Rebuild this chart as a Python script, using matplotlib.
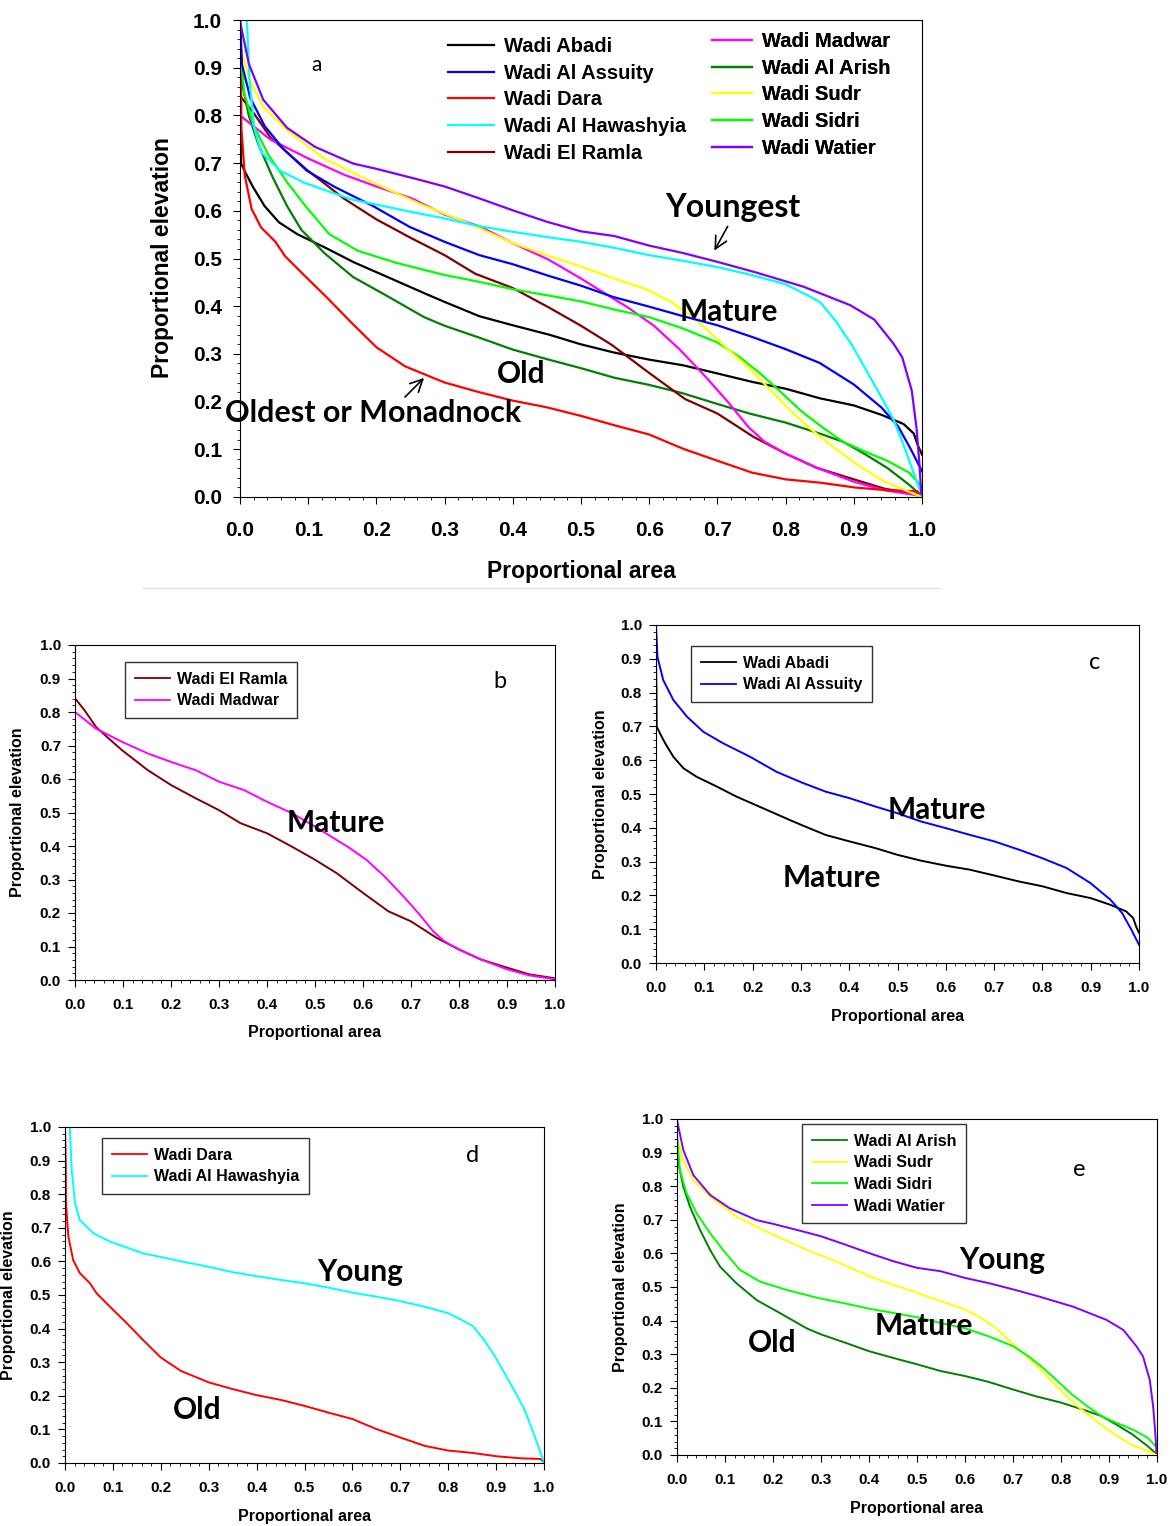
import numpy as np
import matplotlib
matplotlib.use("Agg")
import matplotlib.pyplot as plt
from matplotlib.ticker import MultipleLocator
from matplotlib.lines import Line2D

# hypsometric curves (proportional area, proportional elevation)
abadi_x = [0.0, 0.001, 0.0014, 0.008, 0.019, 0.036, 0.057, 0.084, 0.126, 0.167, 0.215, 0.277, 0.3, 0.351,
           0.4, 0.454, 0.5, 0.548, 0.6, 0.65, 0.7, 0.752, 0.8, 0.85, 0.9, 0.941, 0.973, 0.988, 0.994, 1.0]
abadi_y = [0.897, 0.8, 0.70, 0.68, 0.65, 0.61, 0.576, 0.551, 0.522, 0.492, 0.462, 0.423, 0.409, 0.379,
           0.36, 0.34, 0.32, 0.303, 0.288, 0.276, 0.259, 0.241, 0.227, 0.207, 0.192, 0.172, 0.153, 0.133,
           0.108, 0.089]

assuity_x = [0.0, 0.003, 0.015, 0.036, 0.064, 0.098, 0.139, 0.195, 0.249, 0.3, 0.351, 0.4, 0.454, 0.5,
             0.548, 0.6, 0.65, 0.7, 0.752, 0.8, 0.85, 0.9, 0.941, 0.965, 0.984, 1.0]
assuity_y = [1.0, 0.906, 0.837, 0.778, 0.729, 0.684, 0.65, 0.61, 0.566, 0.535, 0.507, 0.488, 0.463, 0.443,
             0.419, 0.399, 0.379, 0.36, 0.335, 0.31, 0.281, 0.236, 0.187, 0.148, 0.099, 0.054]

dara_x = [0.0, 0.0015, 0.002, 0.007, 0.017, 0.031, 0.052, 0.066, 0.094, 0.129, 0.163, 0.2, 0.242, 0.3,
          0.35, 0.4, 0.45, 0.5, 0.55, 0.6, 0.65, 0.7, 0.751, 0.8, 0.851, 0.901, 0.951, 0.993, 1.0]
dara_y = [1.0, 0.9, 0.773, 0.674, 0.604, 0.565, 0.535, 0.505, 0.465, 0.416, 0.366, 0.314, 0.274, 0.24,
          0.22, 0.202, 0.188, 0.17, 0.15, 0.131, 0.101, 0.076, 0.051, 0.037, 0.03, 0.02, 0.014, 0.012, 0.002]

hawashyia_x = [0.010, 0.014, 0.021, 0.031, 0.059, 0.094, 0.163, 0.2, 0.25, 0.3, 0.35, 0.4, 0.45, 0.5, 0.55,
               0.6, 0.65, 0.7, 0.751, 0.8, 0.832, 0.851, 0.874, 0.897, 0.921, 0.944, 0.959, 0.975, 0.99, 1.0]
hawashyia_y = [1.0, 0.872, 0.773, 0.723, 0.684, 0.659, 0.624, 0.613, 0.598, 0.584, 0.568, 0.556, 0.545,
               0.535, 0.522, 0.507, 0.495, 0.482, 0.465, 0.446, 0.423, 0.408, 0.368, 0.319, 0.259, 0.2, 0.16,
               0.101, 0.042, 0.002]

ramla_x = [0.0, 0.02, 0.044, 0.067, 0.098, 0.152, 0.2, 0.252, 0.3, 0.345, 0.4, 0.452, 0.5, 0.545, 0.6,
           0.653, 0.7, 0.753, 0.8, 0.846, 0.9, 0.946, 1.0]
ramla_y = [0.841, 0.805, 0.755, 0.725, 0.686, 0.626, 0.582, 0.542, 0.507, 0.468, 0.438, 0.398, 0.359, 0.319,
           0.26, 0.205, 0.175, 0.126, 0.091, 0.061, 0.037, 0.017, 0.005]

madwar_x = [0.0, 0.044, 0.098, 0.152, 0.2, 0.252, 0.3, 0.352, 0.4, 0.452, 0.5, 0.545, 0.568, 0.607, 0.645,
            0.684, 0.715, 0.746, 0.769, 0.8, 0.846, 0.9, 0.946, 1.0]
madwar_y = [0.80, 0.75, 0.711, 0.676, 0.651, 0.626, 0.592, 0.567, 0.532, 0.498, 0.458, 0.418, 0.398, 0.359,
            0.309, 0.25, 0.2, 0.146, 0.116, 0.091, 0.061, 0.032, 0.014, 0.002]

arish_x = [0.0, 0.003, 0.013, 0.027, 0.048, 0.069, 0.09, 0.124, 0.166, 0.215, 0.27, 0.3, 0.351, 0.4, 0.45,
           0.5, 0.549, 0.6, 0.648, 0.7, 0.747, 0.8, 0.85, 0.884, 0.915, 0.949, 0.98, 1.0]
arish_y = [0.914, 0.868, 0.799, 0.739, 0.67, 0.61, 0.56, 0.511, 0.461, 0.422, 0.377, 0.359, 0.334, 0.309,
           0.289, 0.27, 0.25, 0.235, 0.218, 0.195, 0.175, 0.156, 0.133, 0.116, 0.091, 0.061, 0.027, 0.002]

sudr_x = [0.0, 0.013, 0.034, 0.069, 0.124, 0.194, 0.263, 0.333, 0.402, 0.45, 0.5, 0.549, 0.6, 0.633, 0.663,
          0.686, 0.716, 0.747, 0.777, 0.808, 0.838, 0.869, 0.907, 0.945, 1.0]
sudr_y = [0.947, 0.878, 0.818, 0.769, 0.709, 0.66, 0.615, 0.575, 0.531, 0.507, 0.483, 0.458, 0.433, 0.408,
          0.379, 0.349, 0.309, 0.27, 0.225, 0.18, 0.141, 0.106, 0.066, 0.032, 0.0]

sidri_x = [0.0, 0.006, 0.02, 0.041, 0.069, 0.096, 0.131, 0.173, 0.229, 0.298, 0.351, 0.402, 0.45, 0.5,
           0.549, 0.6, 0.648, 0.7, 0.732, 0.762, 0.793, 0.823, 0.854, 0.884, 0.915, 0.949, 0.98, 1.0]
sidri_y = [0.955, 0.848, 0.779, 0.719, 0.66, 0.61, 0.551, 0.516, 0.491, 0.466, 0.451, 0.435, 0.423, 0.41,
           0.393, 0.377, 0.354, 0.324, 0.294, 0.26, 0.22, 0.18, 0.146, 0.116, 0.096, 0.076, 0.052, 0.022]

watier_x = [0.0, 0.013, 0.034, 0.069, 0.11, 0.166, 0.2, 0.263, 0.3, 0.351, 0.402, 0.45, 0.5, 0.549, 0.6,
            0.648, 0.7, 0.756, 0.826, 0.895, 0.93, 0.958, 0.971, 0.985, 0.992, 0.996, 0.999]
watier_y = [0.997, 0.908, 0.833, 0.774, 0.734, 0.699, 0.688, 0.665, 0.651, 0.626, 0.6, 0.577, 0.557, 0.547,
            0.527, 0.512, 0.493, 0.471, 0.441, 0.402, 0.372, 0.322, 0.293, 0.223, 0.144, 0.074, 0.006]

curves = {
    "Wadi Abadi": (abadi_x, abadi_y, "black"),
    "Wadi Al Assuity": (assuity_x, assuity_y, "#0000ff"),
    "Wadi Dara": (dara_x, dara_y, "#ff0000"),
    "Wadi Al Hawashyia": (hawashyia_x, hawashyia_y, "#00ffff"),
    "Wadi El Ramla": (ramla_x, ramla_y, "#800000"),
    "Wadi Madwar": (madwar_x, madwar_y, "#ff00ff"),
    "Wadi Al Arish": (arish_x, arish_y, "#008000"),
    "Wadi Sudr": (sudr_x, sudr_y, "#ffff00"),
    "Wadi Sidri": (sidri_x, sidri_y, "#00ff00"),
    "Wadi Watier": (watier_x, watier_y, "#8000ff"),
}

W, H = 1174, 1526
fig = plt.figure(figsize=(W / 100, H / 100), dpi=100)

TICK = "Liberation Sans"
NOTE = "Lato"


def fx(px):
    return px / W


def fy(py):
    return 1 - py / H


def make_axes(l, r, t, b, fs, xpad, ypad):
    ax = fig.add_axes([fx(l), fy(b), fx(r - l), (b - t) / H])
    ax.set_xlim(0, 1)
    ax.set_ylim(0, 1)
    ticks = np.arange(0, 1.01, 0.1)
    ax.set_xticks(ticks)
    ax.set_yticks(ticks)
    ax.set_xticklabels(["%.1f" % v for v in ticks])
    ax.set_yticklabels(["%.1f" % v for v in ticks])
    ax.xaxis.set_minor_locator(MultipleLocator(0.02))
    ax.yaxis.set_minor_locator(MultipleLocator(0.02))
    ax.tick_params(which="major", direction="out", length=5, width=0.8)
    ax.tick_params(which="minor", direction="out", length=2.5, width=0.6)
    ax.tick_params(axis="x", which="major", pad=xpad)
    ax.tick_params(axis="y", which="major", pad=ypad)
    for lab in ax.get_xticklabels() + ax.get_yticklabels():
        lab.set_fontfamily(TICK)
        lab.set_fontweight("bold")
        lab.set_fontsize(fs)
    for s in ax.spines.values():
        s.set_linewidth(0.8)
    return ax


def draw(ax, names, lw):
    for n in names:
        xs, ys, c = curves[n]
        ax.plot(xs, ys, color=c, lw=lw, label=n, solid_joinstyle="round")


def note(x, y, s, fs=21.5):
    fig.text(fx(x), fy(y), s, fontsize=fs, fontfamily=NOTE, fontweight="bold", ha="center", va="center")


def labels(xl, yl, fs):
    fig.text(fx(xl[0]), fy(xl[1]), "Proportional area", fontsize=fs, fontfamily=TICK,
             fontweight="bold", ha="center", va="center")
    fig.text(fx(yl[0]), fy(yl[1]), "Proportional elevation", fontsize=fs, fontfamily=TICK,
             fontweight="bold", ha="center", va="center", rotation=90)


def box_legend(ax, names, x0, y0, fs):
    hs = [Line2D([], [], color=curves[n][2], lw=1.3) for n in names]
    leg = ax.legend(hs, names, loc="upper left", bbox_to_anchor=(fx(x0), fy(y0)),
                    bbox_transform=fig.transFigure, frameon=True, fancybox=False,
                    edgecolor="black", handlelength=2.2, handletextpad=0.45, labelspacing=0.42,
                    borderpad=0.6, borderaxespad=0, prop={"family": TICK, "weight": "bold", "size": fs})
    leg.get_frame().set_linewidth(1.0)
    return leg


# ---- panel a ----
axa = make_axes(240, 922, 20, 497, 15, 12, 8)
all_names = list(curves.keys())
draw(axa, ["Wadi Abadi", "Wadi Al Arish", "Wadi El Ramla", "Wadi Madwar", "Wadi Dara",
           "Wadi Sidri", "Wadi Sudr", "Wadi Al Assuity", "Wadi Al Hawashyia", "Wadi Watier"], 1.6)
labels((581, 572), (162, 258), 16.5)
col1 = all_names[:5]
col2 = all_names[5:]
for names, x0, y0, hl in [(col1, 448, 37, 2.3), (col2, 712, 32, 2.0)]:
    hs = [Line2D([], [], color=curves[n][2], lw=1.6) for n in names]
    leg = axa.legend(hs, names, loc="upper left", bbox_to_anchor=(fx(x0), fy(y0)),
                     bbox_transform=fig.transFigure, frameon=False, handlelength=hl,
                     handletextpad=0.5, labelspacing=0.38, borderpad=0, borderaxespad=0,
                     prop={"family": TICK, "weight": "bold", "size": 14.5})
    axa.add_artist(leg)
fig.text(fx(317), fy(65), "a", fontsize=15, fontfamily=NOTE, ha="center", va="center")
note(733, 208, "Youngest", 23)
note(729, 312, "Mature")
note(521, 374, "Old")
note(373, 413, "Oldest or Monadnock", 22)
axa.annotate("", xy=(fx(713), fy(253)), xycoords="figure fraction",
             xytext=(fx(729), fy(224)), textcoords="figure fraction",
             arrowprops=dict(arrowstyle="->", lw=1.2, color="black", mutation_scale=22))
axa.annotate("", xy=(fx(426), fy(376)), xycoords="figure fraction",
             xytext=(fx(403), fy(399)), textcoords="figure fraction",
             arrowprops=dict(arrowstyle="->", lw=1.2, color="black", mutation_scale=22))
fig.add_artist(Line2D([fx(143), fx(940)], [fy(588), fy(588)], color="#e0e0e0", lw=0.8))

# ---- panel b ----
axb = make_axes(75, 555, 645, 980, 11, 8, 5)
draw(axb, ["Wadi El Ramla", "Wadi Madwar"], 1.4)
box_legend(axb, ["Wadi El Ramla", "Wadi Madwar"], 125, 662, 11.5)
labels((315, 1033), (18, 812), 11.5)
fig.text(fx(500), fy(682), "b", fontsize=17, fontfamily=NOTE, ha="center", va="center")
note(336, 823, "Mature")

# ---- panel c ----
axc = make_axes(656, 1139, 625, 963, 11, 8, 5)
draw(axc, ["Wadi Abadi", "Wadi Al Assuity"], 1.4)
box_legend(axc, ["Wadi Abadi", "Wadi Al Assuity"], 691, 646, 11.5)
labels((898, 1016), (600, 794), 11.5)
fig.text(fx(1095), fy(663), "c", fontsize=17, fontfamily=NOTE, ha="center", va="center")
note(937, 810, "Mature")
note(832, 878, "Mature")

# ---- panel d ----
axd = make_axes(65, 544, 1127, 1463, 11, 8, 5)
draw(axd, ["Wadi Dara", "Wadi Al Hawashyia"], 1.4)
box_legend(axd, ["Wadi Dara", "Wadi Al Hawashyia"], 102, 1138, 11.5)
labels((305, 1516), (9, 1295), 11.5)
fig.text(fx(473), fy(1155), "d", fontsize=17, fontfamily=NOTE, ha="center", va="center")
note(360, 1272, "Young")
note(197, 1410, "Old")

# ---- panel e ----
axe = make_axes(677, 1157, 1119, 1455, 11, 8, 5)
draw(axe, ["Wadi Al Arish", "Wadi Sudr", "Wadi Sidri", "Wadi Watier"], 1.4)
box_legend(axe, ["Wadi Al Arish", "Wadi Sudr", "Wadi Sidri", "Wadi Watier"], 802, 1124, 11.5)
labels((917, 1508), (620, 1287), 11.5)
fig.text(fx(1079), fy(1170), "e", fontsize=17, fontfamily=NOTE, ha="center", va="center")
note(1002, 1260, "Young")
note(924, 1326, "Mature")
note(772, 1343, "Old")

fig.savefig("out.png", dpi=100)
